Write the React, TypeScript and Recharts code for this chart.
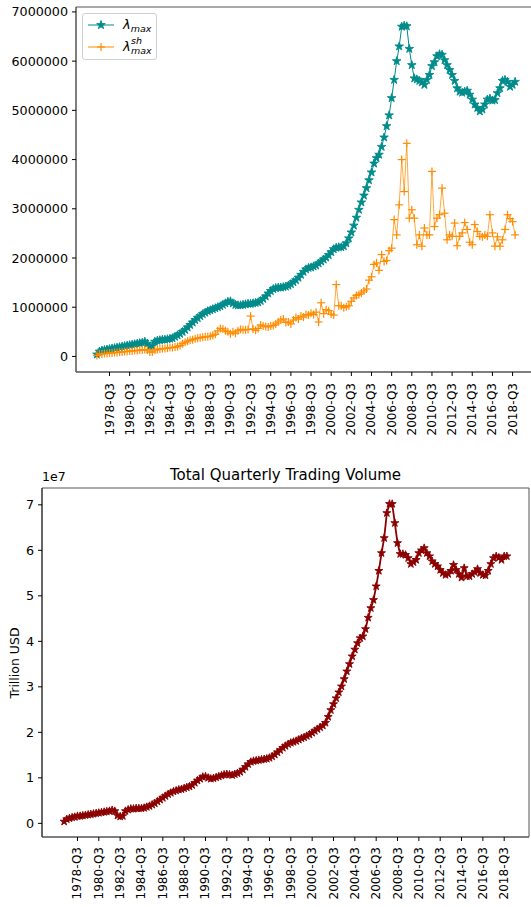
import React from "react";
import { LineChart, Line, XAxis, YAxis, ReferenceArea } from "recharts";

// quarters from 1977-Q2 to 2018-Q4
const quarters: string[] = [];
for (let y = 1977; y <= 2018; y++) {
  for (let q = 1; q <= 4; q++) quarters.push(`${y}-Q${q}`);
}
quarters.shift();

const tickLabels = [
  "1978-Q3", "1980-Q3", "1982-Q3", "1984-Q3", "1986-Q3", "1988-Q3", "1990-Q3",
  "1992-Q3", "1994-Q3", "1996-Q3", "1998-Q3", "2000-Q3", "2002-Q3", "2004-Q3",
  "2006-Q3", "2008-Q3", "2010-Q3", "2012-Q3", "2014-Q3", "2016-Q3", "2018-Q3",
];

// lambda_max, in millions
const lamMax = [
  0.04, 0.10, 0.12, 0.13, 0.14, 0.15, 0.16, 0.17, 0.18, 0.19,
  0.20, 0.21, 0.22, 0.23, 0.24, 0.25, 0.26, 0.27, 0.28, 0.30,
  0.26, 0.20, 0.21, 0.30, 0.32, 0.33, 0.34, 0.34, 0.35, 0.36,
  0.37, 0.40, 0.43, 0.46, 0.50, 0.54, 0.59, 0.64, 0.69, 0.74,
  0.78, 0.82, 0.86, 0.89, 0.92, 0.94, 0.96, 0.98, 1.00, 1.02,
  1.05, 1.08, 1.11, 1.12, 1.08, 1.05, 1.04, 1.04, 1.05, 1.06,
  1.07, 1.07, 1.08, 1.09, 1.10, 1.13, 1.17, 1.22, 1.28, 1.33,
  1.37, 1.39, 1.40, 1.40, 1.41, 1.42, 1.44, 1.47, 1.51, 1.55,
  1.60, 1.66, 1.72, 1.77, 1.80, 1.81, 1.83, 1.85, 1.89, 1.93,
  1.97, 2.01, 2.06, 2.12, 2.18, 2.21, 2.22, 2.22, 2.24, 2.30,
  2.40, 2.52, 2.66, 2.82, 2.98, 3.13, 3.27, 3.42, 3.58, 3.74,
  3.92, 4.03, 4.10, 4.26, 4.45, 4.68, 4.90, 5.25, 5.62, 6.00,
  6.30, 6.70, 6.72, 6.71, 6.25, 5.92, 5.65, 5.63, 5.60, 5.57,
  5.52, 5.62, 5.72, 5.90, 5.98, 6.10, 6.14, 6.13, 6.02, 5.92,
  5.82, 5.72, 5.60, 5.45, 5.38, 5.36, 5.38, 5.40, 5.32, 5.22,
  5.12, 5.05, 4.98, 5.02, 5.12, 5.22, 5.24, 5.20, 5.21, 5.35,
  5.45, 5.60, 5.62, 5.58, 5.48, 5.52, 5.58,
];

// lambda_max^sh, in millions
const lamSh = [
  0.02, 0.05, 0.05, 0.06, 0.06, 0.07, 0.07, 0.08, 0.08, 0.09,
  0.09, 0.10, 0.10, 0.11, 0.11, 0.12, 0.12, 0.13, 0.13, 0.14,
  0.13, 0.09, 0.09, 0.13, 0.14, 0.15, 0.16, 0.16, 0.17, 0.18,
  0.18, 0.19, 0.20, 0.22, 0.26, 0.29, 0.31, 0.33, 0.34, 0.36,
  0.37, 0.38, 0.39, 0.40, 0.40, 0.41, 0.43, 0.45, 0.52, 0.57,
  0.56, 0.52, 0.50, 0.46, 0.50, 0.47, 0.52, 0.55, 0.54, 0.54,
  0.55, 0.82, 0.56, 0.53, 0.57, 0.64, 0.62, 0.61, 0.60, 0.62,
  0.63, 0.66, 0.70, 0.74, 0.76, 0.69, 0.70, 0.66, 0.74, 0.79,
  0.76, 0.82, 0.80, 0.85, 0.84, 0.88, 0.85, 0.90, 0.70, 1.09,
  0.87, 0.95, 0.93, 0.86, 0.84, 1.46, 1.03, 1.03, 0.99, 1.01,
  1.03, 1.12, 1.19, 1.24, 1.26, 1.29, 1.33, 1.37, 1.55, 1.62,
  1.87, 1.90, 1.75, 2.07, 1.93, 1.95, 2.15, 2.20, 2.78, 2.47,
  3.08, 4.00, 3.35, 4.33, 2.81, 2.98, 2.81, 2.27, 2.47, 2.24,
  2.61, 2.47, 2.47, 3.76, 2.64, 2.81, 2.88, 3.42, 2.91, 2.37,
  2.47, 2.44, 2.71, 2.25, 2.44, 2.51, 2.72, 2.58, 2.32, 2.27,
  2.68, 2.54, 2.44, 2.43, 2.47, 2.44, 2.88, 2.51, 2.24, 2.43,
  2.24, 2.37, 2.58, 2.88, 2.80, 2.74, 2.47,
];

// total quarterly trading volume, in units of 1e7
const volume = [
  0.04, 0.09, 0.11, 0.13, 0.14, 0.16, 0.16, 0.17, 0.18, 0.19,
  0.20, 0.21, 0.22, 0.23, 0.24, 0.25, 0.26, 0.27, 0.29, 0.27,
  0.17, 0.15, 0.16, 0.27, 0.30, 0.32, 0.32, 0.33, 0.33, 0.33,
  0.34, 0.36, 0.38, 0.41, 0.44, 0.48, 0.52, 0.56, 0.60, 0.64,
  0.67, 0.70, 0.72, 0.74, 0.75, 0.77, 0.79, 0.81, 0.84, 0.89,
  0.94, 0.98, 1.02, 1.03, 1.00, 0.98, 0.99, 1.01, 1.03, 1.05,
  1.07, 1.08, 1.07, 1.06, 1.08, 1.10, 1.13, 1.18, 1.24, 1.30,
  1.35, 1.37, 1.38, 1.39, 1.40, 1.41, 1.42, 1.44, 1.47, 1.51,
  1.56, 1.61, 1.66, 1.70, 1.74, 1.77, 1.79, 1.81, 1.84, 1.87,
  1.89, 1.92, 1.95, 1.99, 2.03, 2.07, 2.11, 2.15, 2.21, 2.34,
  2.49, 2.62, 2.75, 2.88, 3.01, 3.17, 3.34, 3.50, 3.67, 3.82,
  3.96, 4.07, 4.11, 4.27, 4.52, 4.73, 4.91, 5.21, 5.55, 5.94,
  6.27, 6.82, 7.02, 7.02, 6.60, 6.16, 5.92, 5.92, 5.90, 5.83,
  5.70, 5.74, 5.79, 5.94, 6.00, 6.05, 5.94, 5.87, 5.76, 5.70,
  5.65, 5.57, 5.50, 5.46, 5.48, 5.55, 5.68, 5.57, 5.48, 5.40,
  5.61, 5.43, 5.43, 5.48, 5.52, 5.59, 5.50, 5.46, 5.45, 5.55,
  5.70, 5.83, 5.87, 5.84, 5.79, 5.87, 5.87,
];

const topTicks = [0, 1000000, 2000000, 3000000, 4000000, 5000000, 6000000, 7000000];
const bottomTicks = [0, 1, 2, 3, 4, 5, 6, 7];

const data = quarters.map((q, i) => ({
  i,
  q,
  lam: lamMax[i] * 1000000,
  sh: lamSh[i] * 1000000,
  vol: volume[i],
}));

const xTicks = tickLabels.map((l) => quarters.indexOf(l));
const xDomain: [number, number] = [-8.3, 174.3];
const topDomain: [number, number] = [-316000, 7100000];
const bottomDomain: [number, number] = [-0.3, 7.37];

const FONT = "'DejaVu Sans', sans-serif";
const SPINE = "#555";

function starPts(cx: number, cy: number, r: number) {
  const pts: string[] = [];
  for (let k = 0; k < 10; k++) {
    const a = (-90 + k * 36) * (Math.PI / 180);
    const rr = k % 2 === 0 ? r : r * 0.382;
    pts.push(`${cx + rr * Math.cos(a)},${cy + rr * Math.sin(a)}`);
  }
  return pts.join(" ");
}

const starDot = (color: string, r: number) => (p: any) => {
  if (p.cx == null || p.cy == null) return <g key={p.index} />;
  return (
    <polygon key={p.index} points={starPts(p.cx, p.cy, r)} fill={color} stroke={color} strokeWidth={0.9} />
  );
};

const plusDot = (color: string, s: number) => (p: any) => {
  if (p.cx == null || p.cy == null) return <g key={p.index} />;
  return (
    <g key={p.index} stroke={color} strokeWidth={1.2}>
      <line x1={p.cx - s} x2={p.cx + s} y1={p.cy} y2={p.cy} />
      <line x1={p.cx} x2={p.cx} y1={p.cy - s} y2={p.cy + s} />
    </g>
  );
};

const RotTick = (props: any) => {
  const { x, y, payload } = props;
  return (
    <text
      x={x}
      y={y}
      transform={`rotate(-90 ${x} ${y})`}
      textAnchor="end"
      dominantBaseline="central"
      fontSize={12}
      fontFamily={FONT}
      fill="#000"
    >
      {quarters[payload.value]}
    </text>
  );
};

const yTick = { fontSize: 12.7, fill: "#000", fontFamily: FONT };

export default function App() {
  return (
    <div
      style={{
        position: "absolute",
        left: 0,
        top: 0,
        width: 531,
        height: 907,
        overflow: "hidden",
        background: "#fff",
        fontFamily: FONT,
      }}
    >
      <div style={{ position: "absolute", left: 0, top: 0 }}>
        <LineChart width={536} height={470} data={data} margin={{ top: 7, right: 0, bottom: 0, left: 0 }}>
          <XAxis
            dataKey="i"
            type="number"
            domain={xDomain}
            ticks={xTicks}
            interval={0}
            allowDataOverflow
            height={98}
            tickSize={4}
            tickMargin={7}
            tick={(p: any) => <RotTick {...p} />}
            axisLine={{ stroke: SPINE }}
            tickLine={{ stroke: "#000" }}
          />
          <YAxis
            type="number"
            domain={topDomain}
            ticks={topTicks}
            interval={0}
            allowDataOverflow
            width={76}
            tickSize={4}
            tickMargin={4}
            tick={yTick}
            axisLine={{ stroke: SPINE }}
            tickLine={{ stroke: "#000" }}
          />
          <ReferenceArea
            x1={xDomain[0]}
            x2={xDomain[1]}
            y1={topDomain[0]}
            y2={topDomain[1]}
            fill="none"
            stroke={SPINE}
            strokeWidth={1}
          />
          <Line
            dataKey="lam"
            stroke="#008b8b"
            strokeWidth={1}
            dot={starDot("#008b8b", 4.5)}
            activeDot={false}
            isAnimationActive={false}
          />
          <Line
            dataKey="sh"
            stroke="#ff8c00"
            strokeOpacity={0.75}
            strokeWidth={1}
            dot={plusDot("#ff8c00", 4)}
            activeDot={false}
            isAnimationActive={false}
          />
        </LineChart>
      </div>

      {/* legend */}
      <div
        style={{
          position: "absolute",
          left: 82,
          top: 13,
          width: 73,
          height: 45,
          border: "1px solid #d0d0d0",
          borderRadius: 3,
          background: "rgba(255,255,255,0.85)",
        }}
      >
        <svg width={73} height={45}>
          <line x1={5} x2={31} y1={11} y2={11} stroke="#008b8b" strokeWidth={1} />
          <polygon points={starPts(18, 11, 4.5)} fill="#008b8b" stroke="#008b8b" strokeWidth={0.9} />
          <text x={40} y={15} fontSize={13} fontStyle="italic" fontFamily={FONT} fill="#000">
            λ<tspan fontSize={9.5} dy={3}>max</tspan>
          </text>
          <line x1={5} x2={31} y1={33} y2={33} stroke="#ff8c00" strokeWidth={1} />
          <line x1={14} x2={22} y1={33} y2={33} stroke="#ff8c00" strokeWidth={1.2} />
          <line x1={18} x2={18} y1={29} y2={37} stroke="#ff8c00" strokeWidth={1.2} />
          <text x={40} y={37} fontSize={13} fontStyle="italic" fontFamily={FONT} fill="#000">
            λ
            <tspan x={48} dy={-7} fontSize={9.5}>sh</tspan>
            <tspan x={48} dy={10} fontSize={9.5}>max</tspan>
          </text>
        </svg>
      </div>

      {/* bottom title and labels */}
      <div
        style={{
          position: "absolute",
          left: 42,
          top: 466,
          width: 487,
          textAlign: "center",
          fontSize: 15,
          lineHeight: "18px",
          color: "#000",
        }}
      >
        Total Quarterly Trading Volume
      </div>
      <div style={{ position: "absolute", left: 42, top: 469, fontSize: 12.5, lineHeight: "16px" }}>1e7</div>
      <div
        style={{
          position: "absolute",
          left: 14,
          top: 663,
          transform: "translate(-50%, -50%) rotate(-90deg)",
          whiteSpace: "nowrap",
          fontSize: 12.5,
        }}
      >
        Trillion USD
      </div>

      <div style={{ position: "absolute", left: 0, top: 480 }}>
        <LineChart width={531} height={427} data={data} margin={{ top: 8, right: 2, bottom: 0, left: 0 }}>
          <XAxis
            dataKey="i"
            type="number"
            domain={xDomain}
            ticks={xTicks}
            interval={0}
            allowDataOverflow
            height={70}
            tickSize={4}
            tickMargin={6}
            tick={(p: any) => <RotTick {...p} />}
            axisLine={{ stroke: SPINE }}
            tickLine={{ stroke: "#000" }}
          />
          <YAxis
            type="number"
            domain={bottomDomain}
            ticks={bottomTicks}
            interval={0}
            allowDataOverflow
            width={42}
            tickSize={4}
            tickMargin={4}
            tick={yTick}
            axisLine={{ stroke: "#222" }}
            tickLine={{ stroke: "#000" }}
          />
          <ReferenceArea
            x1={xDomain[0]}
            x2={xDomain[1]}
            y1={bottomDomain[0]}
            y2={bottomDomain[1]}
            fill="none"
            stroke={SPINE}
            strokeWidth={1}
          />
          <Line
            dataKey="vol"
            stroke="#8b0000"
            strokeWidth={1.8}
            dot={starDot("#8b0000", 4.2)}
            activeDot={false}
            isAnimationActive={false}
          />
        </LineChart>
      </div>
    </div>
  );
}
